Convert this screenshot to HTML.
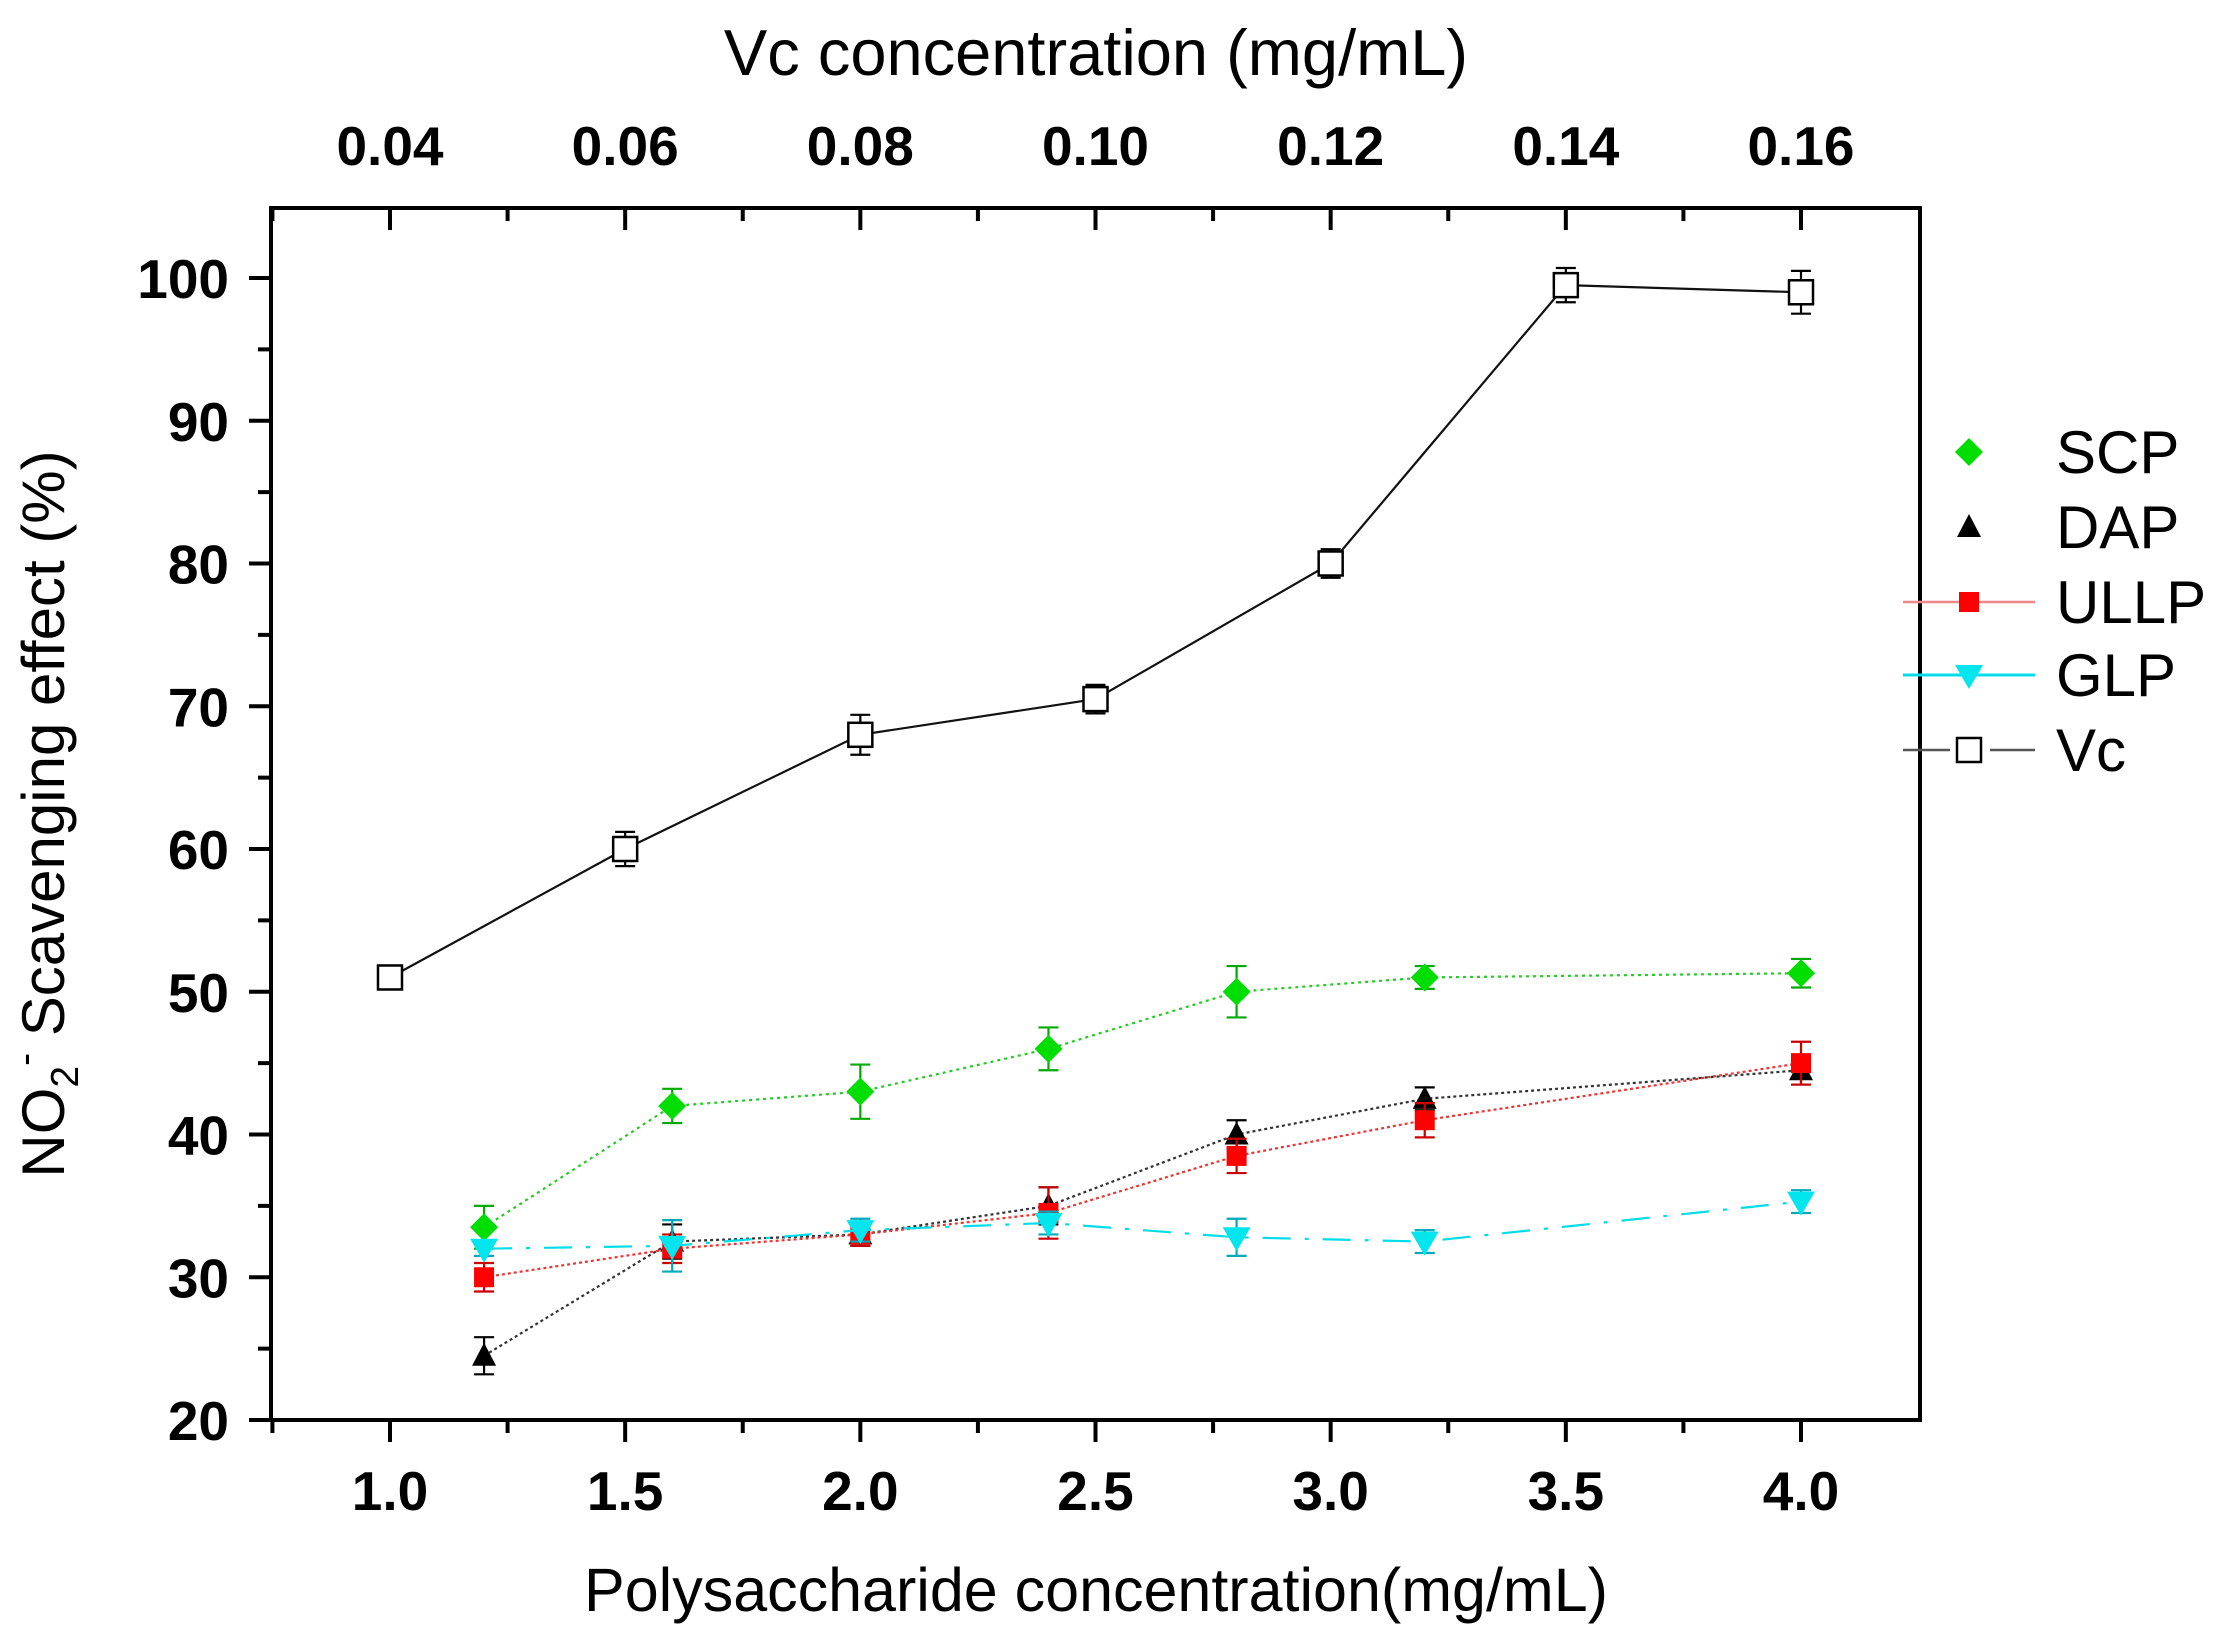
<!DOCTYPE html>
<html><head><meta charset="utf-8"><style>
body{margin:0;background:#fff;width:2214px;height:1640px;overflow:hidden}
svg{display:block;font-family:"Liberation Sans",Arial,sans-serif}
</style></head><body>
<svg id="chart" width="2214" height="1640" viewBox="0 0 2214 1640" xmlns="http://www.w3.org/2000/svg">
<g id="axes"></g>
<g id="series"></g>
<g id="legend"></g>
</svg>
<script>
const polyX = [1.2, 1.6, 2.0, 2.4, 2.8, 3.2, 4.0];
const scpVals = [33.5, 42, 43, 46, 50, 51, 51.3];
const scpErr = [1.5, 1.2, 1.9, 1.5, 1.8, 0.8, 1.0];
const dapVals = [24.5, 32.5, 33, 35, 40, 42.5, 44.5];
const dapErr = [1.3, 1.2, 0.8, 1.3, 1.0, 0.8, 1.0];
const ullpVals = [30, 32, 33, 34.5, 38.5, 41, 45];
const ullpErr = [1.0, 1.0, 0.8, 1.8, 1.2, 1.2, 1.5];
const glpVals = [32, 32.2, 33.3, 33.8, 32.8, 32.5, 35.3];
const glpErr = [0.5, 1.8, 0.8, 0.8, 1.3, 0.8, 0.8];
const vcX = [1.0, 1.5, 2.0, 2.5, 3.0, 3.5, 4.0];
const vcVals = [51, 60, 68, 70.5, 80, 99.5, 99];
const vcErr = [0.5, 1.2, 1.4, 1.0, 1.0, 1.2, 1.5];
const bottomTicks = ["1.0","1.5","2.0","2.5","3.0","3.5","4.0"];
const topTicks = ["0.04","0.06","0.08","0.10","0.12","0.14","0.16"];
const yTicks = [20,30,40,50,60,70,80,90,100];

const NS="http://www.w3.org/2000/svg";
const L=271,R=1920,T=208,B=1420;
const X0=0.747,X1=4.253,Y0=20,Y1=100;
const sx=v=>L+(v-X0)/(X1-X0)*(R-L);
const sy=v=>B-(v-Y0)/(Y1-Y0)*(B-278);
function mk(tag,at,parent){const e=document.createElementNS(NS,tag);for(const k in at)e.setAttribute(k,at[k]);parent.appendChild(e);return e;}
const ax=document.getElementById('axes');
let e;
e=mk('rect',{x:L,y:T,width:R-L,height:B-T,fill:'none',stroke:'#000','stroke-width':4},ax);


for(let v=20;v<=100;v+=5){const maj=v%10===0;
 e=mk('line',{x1:L,x2:L-(maj?22:13),y1:sy(v),y2:sy(v),stroke:'#000','stroke-width':4},ax);
 
 }
yTicks.forEach(v=>{e=mk('text',{x:L-42,y:sy(v)+20,'text-anchor':'end','font-size':55,'font-weight':'bold'},ax);e.textContent=v;
 
 });
for(let i=0;i<=13;i++){const v=0.75+i*0.25;const maj=Math.abs((v*2)-Math.round(v*2))<1e-6;
 e=mk('line',{x1:sx(v),x2:sx(v),y1:B,y2:B+(maj?22:13),stroke:'#000','stroke-width':4},ax);
 
 
 e=mk('line',{x1:sx(v),x2:sx(v),y1:T,y2:T+(maj?22:13),stroke:'#000','stroke-width':4},ax);
 
 }
bottomTicks.forEach(t=>{e=mk('text',{x:sx(parseFloat(t)),y:B+90,'text-anchor':'middle','font-size':55,'font-weight':'bold'},ax);e.textContent=t;
 
 });
topTicks.forEach((t,i)=>{e=mk('text',{x:sx(vcX[0]+i*0.5),y:165,'text-anchor':'middle','font-size':55,'font-weight':'bold'},ax);e.textContent=t;
 
 });
e=mk('text',{x:1096,y:75,'text-anchor':'middle','font-size':65},ax);e.textContent='Vc concentration (mg/mL)';


e=mk('text',{x:1096,y:1611,'text-anchor':'middle','font-size':61},ax);e.textContent='Polysaccharide concentration(mg/mL)';


e=mk('text',{x:0,y:0,'text-anchor':'middle','font-size':60,transform:'translate(64,814) rotate(-90)'},ax);
e.innerHTML='NO<tspan font-size="39" dy="14">2</tspan><tspan font-size="39" dy="-40">-</tspan><tspan dy="26"> Scavenging effect (%)</tspan>';



const sg=document.getElementById('series');
function marker(type,x,y,g,color){
 let m;
 if(type==='diamond')m=mk('polygon',{points:`${x},${y-14} ${x+14},${y} ${x},${y+14} ${x-14},${y}`,fill:color},g);
 else if(type==='tri')m=mk('polygon',{points:`${x},${y-13} ${x+12},${y+10} ${x-12},${y+10}`,fill:color},g);
 else if(type==='sq')m=mk('rect',{x:x-10,y:y-10,width:20,height:20,fill:color},g);
 else if(type==='dtri')m=mk('polygon',{points:`${x-14},${y-10} ${x+14},${y-10} ${x},${y+14}`,fill:color},g);
 else m=mk('rect',{x:x-12,y:y-12,width:24,height:24,fill:'#fff',stroke:'#000','stroke-width':2.5},g);
 return m;}
const seriesDefs=[
 {name:'scp',xs:polyX,ys:scpVals,er:scpErr,color:'#00dd00',line:'#22cc22',dash:'3,4',m:'diamond',ec:'#00aa00'},
 {name:'dap',xs:polyX,ys:dapVals,er:dapErr,color:'#000',line:'#333',dash:'3,3',m:'tri',ec:'#000'},
 {name:'ullp',xs:polyX,ys:ullpVals,er:ullpErr,color:'#ff0000',line:'#ee3333',dash:'3,3',m:'sq',ec:'#cc0000'},
 {name:'glp',xs:polyX,ys:glpVals,er:glpErr,color:'#00e5ee',line:'#00dde8',dash:'28,14,4,14',m:'dtri',ec:'#00aabb'},
 {name:'vc',xs:vcX,ys:vcVals,er:vcErr,color:'#fff',line:'#111',dash:'',m:'open',ec:'#000'}];
seriesDefs.forEach(s=>{
 const g=mk('g',{},sg);
 
 
 const pts=s.xs.map((x,i)=>sx(x)+','+sy(s.ys[i])).join(' ');
 const pl=mk('polyline',{points:pts,fill:'none',stroke:s.line,'stroke-width':2.2,'stroke-dasharray':s.dash},g);
 
 
 s.xs.forEach((x,i)=>{const px=sx(x),y1=sy(s.ys[i]+s.er[i]),y2=sy(s.ys[i]-s.er[i]);
  const eb=mk('path',{d:`M${px},${y1}V${y2}M${px-10},${y1}H${px+10}M${px-10},${y2}H${px+10}`,stroke:s.ec,'stroke-width':2.2,fill:'none'},g);
  
  
  const m=marker(s.m,px,sy(s.ys[i]),g,s.color);
  
  });
});

const lg=document.getElementById('legend');
const legendNames=['SCP','DAP','ULLP','GLP','Vc'];
const legendY=[452,527,602,675,750];
legendNames.forEach((n,i)=>{const s=seriesDefs[i];const g=mk('g',{},lg);
 
 
 const y=legendY[i];
 if(i>=2){mk('line',{x1:1903,x2:2035,y1:y,y2:y,stroke:i===2?'#e88':(i===3?'#00dde8':'#555'),'stroke-width':i===3?3:2.5},g);
  if(i===4){mk('line',{x1:1950,x2:1990,y1:y,y2:y,stroke:'#fff','stroke-width':4},g);}}
 marker(s.m,1969,y,g,s.color);
 const t=mk('text',{x:2056,y:y+21,'font-size':60},g);t.textContent=n;});
</script>
</body></html>
